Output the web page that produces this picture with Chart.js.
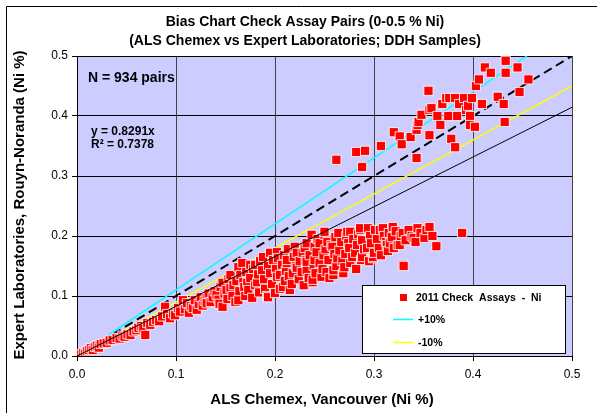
<!DOCTYPE html>
<html>
<head>
<meta charset="utf-8">
<script src="https://cdn.jsdelivr.net/npm/chart.js@4.4.1/dist/chart.umd.min.js"></script>
<style>
  body { margin: 0; background: #fff; }
  #wrap { width: 597px; height: 413px; }
</style>
</head>
<body>
<div id="wrap"><canvas id="biasChart" width="597" height="413"></canvas></div>
<script>
// axis ticks (Ni %)
const tickValues = [0, 0.1, 0.2, 0.3, 0.4, 0.5];

// check assay pairs [ALS Chemex, Expert Labs]
const pairsLow = [
  [0.003,0.003],[0.006,0.005],[0.008,0.004],[0.010,0.008],[0.012,0.010],[0.014,0.013],[0.016,0.010],[0.018,0.015],
  [0.020,0.017],[0.022,0.014],[0.024,0.020],[0.027,0.021],[0.030,0.022],[0.033,0.026],[0.036,0.027],[0.040,0.030],
  [0.043,0.029],[0.046,0.034],[0.048,0.032],[0.051,0.036],[0.054,0.035],[0.057,0.041],[0.060,0.043],[0.062,0.047],
  [0.065,0.050],[0.067,0.046],[0.069,0.035],[0.071,0.055],[0.074,0.052],[0.077,0.057],[0.080,0.060],[0.083,0.058],
  [0.086,0.066],[0.089,0.082],[0.091,0.070],[0.094,0.063],[0.097,0.071],[0.099,0.068],[0.102,0.080],[0.104,0.074]
];

const pairsMid = [
  [0.107,0.093],[0.109,0.078],[0.111,0.088],[0.113,0.072],[0.115,0.083],
  [0.117,0.080],[0.119,0.093],[0.121,0.077],[0.123,0.087],[0.125,0.098],
  [0.127,0.084],[0.129,0.092],[0.131,0.097],[0.131,0.088],[0.133,0.104],[0.135,0.090],
  [0.137,0.098],[0.139,0.108],[0.141,0.102],[0.143,0.094],[0.144,0.087],[0.145,0.115],
  [0.147,0.082],[0.147,0.122],[0.149,0.104],[0.151,0.110],[0.152,0.095],[0.153,0.128],[0.155,0.113],[0.155,0.135],
  [0.157,0.100],[0.158,0.118],[0.160,0.090],[0.161,0.125],[0.163,0.093],[0.163,0.148],[0.164,0.108],[0.165,0.135],
  [0.167,0.155],[0.168,0.123],[0.169,0.115],[0.170,0.100],[0.171,0.140],[0.172,0.122],[0.173,0.110],[0.175,0.152],[0.175,0.130],
  [0.177,0.097],[0.178,0.145],[0.180,0.152],[0.180,0.118],[0.182,0.123],[0.183,0.136],[0.184,0.106],[0.185,0.158],
  [0.187,0.143],[0.188,0.165],[0.189,0.128],[0.190,0.112],[0.192,0.100],[0.193,0.098],[0.193,0.150],[0.195,0.138],[0.195,0.172],
  [0.197,0.120],[0.198,0.160],[0.200,0.105],[0.201,0.145],[0.202,0.132],[0.202,0.173],[0.203,0.163],[0.205,0.112],[0.205,0.135],
  [0.207,0.152],[0.208,0.115],[0.209,0.168],[0.210,0.125],[0.211,0.142],[0.212,0.155],[0.212,0.160],[0.213,0.178],[0.214,0.133],[0.215,0.110],
  [0.217,0.120],[0.218,0.138],[0.219,0.165],[0.220,0.182],[0.221,0.150],[0.222,0.147],[0.222,0.172],[0.224,0.128],[0.225,0.158],
  [0.227,0.140],[0.228,0.172],[0.229,0.118],[0.230,0.180],[0.231,0.160],[0.232,0.143],[0.232,0.157],[0.232,0.188],[0.234,0.130],[0.235,0.168],
  [0.237,0.202],[0.238,0.123],[0.238,0.127],[0.239,0.150],[0.240,0.160],[0.240,0.182],[0.241,0.138],[0.242,0.173],[0.243,0.195],[0.245,0.155],[0.245,0.188],
  [0.247,0.132],[0.248,0.145],[0.249,0.168],[0.250,0.202],[0.250,0.207],[0.251,0.178],[0.252,0.140],[0.253,0.190],[0.254,0.160],[0.255,0.130],
  [0.257,0.185],[0.258,0.182],[0.259,0.135],[0.259,0.143],[0.260,0.170],[0.261,0.198],[0.262,0.150],[0.263,0.163],[0.264,0.205],[0.265,0.176],
  [0.267,0.190],[0.268,0.158],[0.269,0.138],[0.270,0.148],[0.271,0.170],[0.272,0.200],[0.273,0.207],[0.274,0.188],[0.275,0.180],[0.276,0.155],[0.276,0.207],
  [0.278,0.165],[0.279,0.195],[0.281,0.172],[0.282,0.145],[0.283,0.185],[0.284,0.203],[0.286,0.210],[0.286,0.213],[0.287,0.160],[0.288,0.165],[0.288,0.193],[0.290,0.178],
  [0.293,0.180],[0.294,0.213],[0.295,0.158],[0.296,0.200],[0.297,0.188],[0.299,0.163],[0.299,0.165],[0.300,0.172],[0.301,0.210],
  [0.303,0.195],[0.305,0.180],[0.306,0.210],[0.307,0.168],[0.309,0.213],[0.310,0.200],[0.312,0.190],[0.313,0.185],[0.314,0.175],[0.315,0.205],
  [0.316,0.188],[0.318,0.198],[0.319,0.215],[0.320,0.180],[0.322,0.208],[0.324,0.185],[0.326,0.185],[0.327,0.200],[0.329,0.205],[0.329,0.152],[0.330,0.150],
  [0.332,0.193],[0.335,0.210],[0.338,0.200],[0.340,0.197],[0.342,0.190],[0.344,0.213],[0.347,0.205],[0.351,0.197],[0.353,0.210],[0.356,0.215],
  [0.359,0.200],[0.363,0.183],[0.389,0.205]
];

const pairsHigh = [
  [0.262,0.327],[0.282,0.340],[0.291,0.342],[0.288,0.315],[0.307,0.350],[0.320,0.373],[0.326,0.366],[0.328,0.353],
  [0.337,0.365],[0.343,0.330],[0.343,0.377],[0.344,0.385],[0.345,0.390],[0.348,0.402],[0.355,0.442],[0.356,0.368],
  [0.356,0.410],[0.358,0.413],[0.364,0.400],[0.367,0.385],[0.369,0.420],[0.373,0.430],[0.375,0.400],[0.376,0.430],
  [0.378,0.362],[0.382,0.348],[0.382,0.430],[0.384,0.400],[0.386,0.420],[0.391,0.430],[0.393,0.410],[0.395,0.417],
  [0.397,0.400],[0.397,0.385],[0.399,0.430],[0.402,0.382],[0.403,0.450],[0.406,0.461],[0.409,0.420],[0.412,0.481],
  [0.418,0.472],[0.425,0.432],[0.431,0.420],[0.432,0.390],[0.433,0.492],[0.433,0.472],[0.445,0.481],[0.447,0.440],
  [0.456,0.461]
];

// reference lines
const oneToOne = [[0, 0], [0.5, 0.5]];
const plus10 = [[0.03, 0.033], [0.4545, 0.5]];
const minus10 = [[0.03, 0.027], [0.5, 0.45]];
const trendLine = [[0, 0], [0.5, 0.41455]];

const toXY = arr => arr.map(p => ({ x: p[0], y: p[1] }));
const allPairs = pairsLow.concat(pairsMid, pairsHigh);

const decor = {
  id: 'decor',
  beforeDraw(chart) {
    const c = chart.ctx, a = chart.chartArea;
    c.save();
    c.fillStyle = '#fff';
    c.fillRect(0, 0, chart.width, chart.height);
    c.fillStyle = '#ccccff';
    c.fillRect(a.left, a.top, a.right - a.left, a.bottom - a.top);
    c.restore();
  },
  afterDraw(chart) {
    const c = chart.ctx;
    const ds = chart.data.datasets;
    c.save();
    // outer frame
    c.strokeStyle = '#000';
    c.lineWidth = 1;
    c.beginPath();
    c.moveTo(6.5, 413); c.lineTo(6.5, 6.5); c.lineTo(597, 6.5);
    c.stroke();

    c.fillStyle = '#000';
    c.textAlign = 'center';
    c.textBaseline = 'middle';
    c.font = 'bold 14px Arial, "Liberation Sans", sans-serif';
    c.fillText('Bias Chart Check Assay Pairs (0-0.5 % Ni)', 305, 22);
    c.fillText('(ALS Chemex vs Expert Laboratories; DDH Samples)', 305, 41);

    c.font = 'bold 15px Arial, "Liberation Sans", sans-serif';
    c.fillText('ALS Chemex, Vancouver (Ni %)', 322, 400);
    c.save();
    c.translate(20, 205);
    c.rotate(-Math.PI / 2);
    c.fillText('Expert Laboratories, Rouyn-Noranda (Ni %)', 0, 0);
    c.restore();

    c.textAlign = 'left';
    c.font = 'bold 14px Arial, "Liberation Sans", sans-serif';
    c.fillText('N = 934 pairs', 88, 78);
    c.font = 'bold 12px Arial, "Liberation Sans", sans-serif';
    c.fillText('y = 0.8291x', 91, 132);
    c.fillText('R\u00b2 = 0.7378', 91, 145);

    // legend box
    c.fillStyle = '#fff';
    c.fillRect(362, 285, 203, 68);
    c.strokeStyle = '#000';
    c.strokeRect(362.5, 285.5, 203, 68);
    c.fillStyle = ds[1].backgroundColor;
    c.fillRect(400, 294, 7, 7);
    c.lineWidth = 1.5;
    c.strokeStyle = ds[3].borderColor;
    c.beginPath(); c.moveTo(393, 319.5); c.lineTo(413, 319.5); c.stroke();
    c.strokeStyle = ds[4].borderColor;
    c.beginPath(); c.moveTo(393, 342.5); c.lineTo(413, 342.5); c.stroke();
    c.fillStyle = '#000';
    c.font = 'bold 10.5px Arial, "Liberation Sans", sans-serif';
    c.fillText('2011 Check  Assays  -  Ni', 416, 298);
    c.fillText('+10%', 418, 320);
    c.fillText('-10%', 418, 343);
    c.restore();
  }
};

const tickFont = { family: 'Arial, "Liberation Sans", sans-serif', size: 12 };

new Chart(document.getElementById('biasChart'), {
  type: 'scatter',
  data: {
    datasets: [
      { label: 'Linear (trend)', data: toXY(trendLine), showLine: true, borderColor: '#000', borderWidth: 1,
        pointRadius: 0, order: 0 },
      { label: '2011 Check Assays - Ni', data: toXY(allPairs), backgroundColor: '#ff0000',
        borderColor: 'rgba(255,255,255,0.85)', borderWidth: 1, pointStyle: 'rect', pointRadius: 6.5, order: 1 },
      { label: '1:1', data: toXY(oneToOne), showLine: true, borderColor: '#000', borderWidth: 2,
        borderDash: [9, 5], pointRadius: 0, order: 2 },
      { label: '+10%', data: toXY(plus10), showLine: true, borderColor: '#00ffff', borderWidth: 1.5,
        pointRadius: 0, order: 3 },
      { label: '-10%', data: toXY(minus10), showLine: true, borderColor: '#ffff00', borderWidth: 1.5,
        pointRadius: 0, order: 4 }
    ]
  },
  options: {
    responsive: false,
    animation: false,
    layout: { padding: { left: 0, top: 56, right: 25, bottom: 0 } },
    plugins: { legend: { display: false }, tooltip: { enabled: false } },
    scales: {
      x: {
        min: 0, max: 0.5,
        afterBuildTicks: axis => { axis.ticks = tickValues.map(v => ({ value: v })); },
        afterFit: scale => { scale.height = 57; },
        ticks: { callback: v => v.toFixed(1), font: tickFont, color: '#000', padding: 6, maxRotation: 0 },
        grid: { color: '#444', lineWidth: 1, tickLength: 5, tickColor: '#000' },
        border: { color: '#000' }
      },
      y: {
        min: 0, max: 0.5,
        afterBuildTicks: axis => { axis.ticks = tickValues.map(v => ({ value: v })); },
        afterFit: scale => { scale.width = 77; },
        ticks: { callback: v => v.toFixed(1), font: tickFont, color: '#000', padding: 4 },
        grid: { color: '#000', lineWidth: 1, tickLength: 5, tickColor: '#000' },
        border: { color: '#000' }
      }
    }
  },
  plugins: [decor]
});
</script>
</body>
</html>
